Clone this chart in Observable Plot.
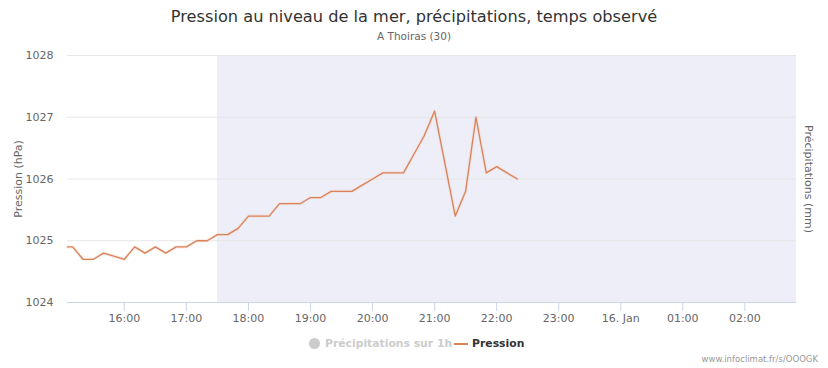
<!DOCTYPE html>
<html>
<head>
<meta charset="utf-8">
<script src="https://cdn.jsdelivr.net/npm/d3@7"></script>
<script src="https://cdn.jsdelivr.net/npm/@observablehq/plot@0.6"></script>
<style>
  body { margin: 0; background: #fff; font-family: "DejaVu Sans", sans-serif; }
  #wrap { position: relative; width: 828px; height: 368px; overflow: hidden; }
  #chart { position: absolute; left: 0; top: 0; }
  .title { position: absolute; left: 0; width: 828px; top: 7px; text-align: center; font-size: 16.2px; color: #333; }
  .subtitle { position: absolute; left: 0; width: 828px; top: 30px; text-align: center; font-size: 10.5px; color: #666; }
  .legend { position: absolute; top: 337px; left: 309px; font-size: 10.8px; font-weight: bold; white-space: nowrap; display: flex; align-items: center; }
  .legend .dot { display: inline-block; width: 11px; height: 11px; border-radius: 50%; background: #ccc; margin-right: 5px; }
  .legend .off { color: #ccc; }
  .legend .seg { display: inline-block; width: 14px; height: 2px; background: #d9825b; margin: 0 4px 0 2px; }
  .legend .on { color: #333; }
  .caption { position: absolute; right: 10px; top: 354px; font-size: 8.5px; color: #999; }
</style>
</head>
<body>
<div id="wrap">
  <div id="chart"></div>
  <div class="title">Pression au niveau de la mer, précipitations, temps observé</div>
  <div class="subtitle">A Thoiras (30)</div>
  <div class="legend"><span class="dot"></span><span class="off">Précipitations sur 1h</span><span class="seg"></span><span class="on">Pression</span></div>
  <div class="caption">www.infoclimat.fr/s/OOOGK</div>
</div>
<script>
const times = ["15:05","15:10","15:20","15:30","15:40","16:00","16:10","16:20","16:30","16:40","16:50",
  "17:00","17:10","17:20","17:30","17:40","17:50","18:00","18:10","18:20","18:30","18:40","18:50",
  "19:00","19:10","19:20","19:30","19:40","19:50","20:00","20:10","20:20","20:30","20:40","20:50",
  "21:00","21:20","21:30","21:40","21:50","22:00","22:10","22:20"];
const pression = [1024.9,1024.9,1024.7,1024.7,1024.8,1024.7,1024.9,1024.8,1024.9,1024.8,1024.9,
  1024.9,1025.0,1025.0,1025.1,1025.1,1025.2,1025.4,1025.4,1025.4,1025.6,1025.6,1025.6,
  1025.7,1025.7,1025.8,1025.8,1025.8,1025.9,1026.0,1026.1,1026.1,1026.1,1026.4,1026.7,
  1027.1,1025.4,1025.8,1027.0,1026.1,1026.2,1026.1,1026.0];
const yTicks = [1024, 1025, 1026, 1027, 1028];
const xStart = "2020-01-15T15:05";
const xEnd = "2020-01-16T02:50";
const bandStart = "2020-01-15T17:30";

const toDate = (s) => new Date(s + ":00Z");
const data = times.map((t, i) => ({ t: toDate("2020-01-15T" + t), p: pression[i] }));
const x0 = toDate(xStart), x1 = toDate(xEnd);
const hourTicks = d3.utcHour.range(d3.utcHour.ceil(x0), x1);
const fmt = (d) => d.getUTCHours() === 0 ? d3.utcFormat("%-d. ")(d) + "Jan" : d3.utcFormat("%H:%M")(d);

const chart = Plot.plot({
  width: 828,
  height: 368,
  marginTop: 55,
  marginBottom: 66,
  marginLeft: 67,
  marginRight: 32,
  style: { fontFamily: "DejaVu Sans, sans-serif", background: "transparent" },
  x: { type: "utc", domain: [x0, x1] },
  y: { domain: [1024, 1028] },
  marks: [
    Plot.rect([{ a: toDate(bandStart), b: x1 }], { x1: "a", x2: "b", y1: 1024, y2: 1028, fill: "#eeeef8" }),
    Plot.ruleY(yTicks.slice(1), { stroke: "#e6e6e6" }),
    Plot.ruleY([1024], { stroke: "#ccd6eb" }),
    Plot.axisY({ ticks: yTicks, tickSize: 0, tickPadding: 14, tickFormat: (d) => String(d), fontSize: 11, fill: "#666", label: null }),
    Plot.axisX({ ticks: hourTicks, tickSize: 9, tickPadding: 3, tickFormat: fmt, fontSize: 11, fill: "#666", stroke: "#ccd6eb", label: null }),
    Plot.text(["Pression (hPa)"], { frameAnchor: "left", textAnchor: "middle", dx: -49, rotate: -90, fontSize: 11, fill: "#666" }),
    Plot.text(["Précipitations (mm)"], { frameAnchor: "right", textAnchor: "middle", dx: 12, rotate: 90, fontSize: 11, fill: "#666" }),
    Plot.line(data, { x: "t", y: "p", stroke: "#f2d3c4", strokeWidth: 3, strokeOpacity: 0.5 }),
    Plot.line(data, { x: "t", y: "p", stroke: "#d9825b", strokeWidth: 1.3 })
  ]
});
document.getElementById("chart").appendChild(chart);
</script>
</body>
</html>
